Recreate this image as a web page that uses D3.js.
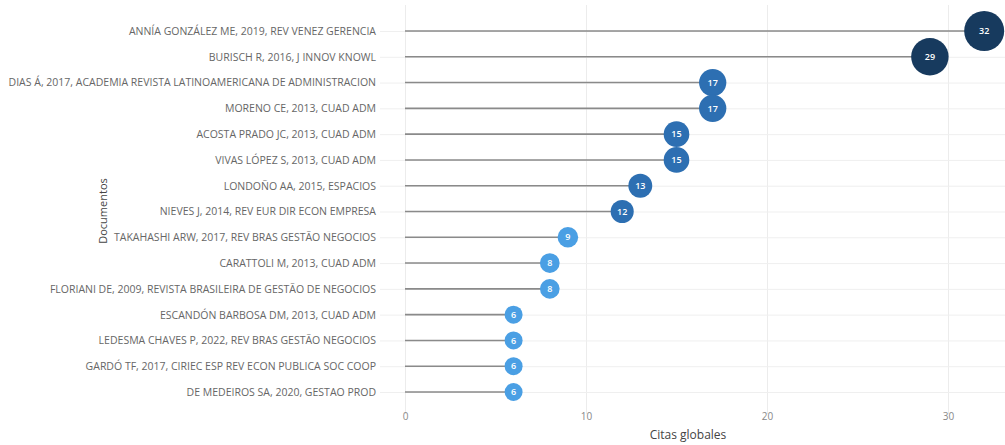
<!DOCTYPE html>
<html>
<head>
<meta charset="utf-8">
<script src="https://cdn.jsdelivr.net/npm/d3@7"></script>
<style>
  body { margin: 0; background: #fff; font-family: 'Open Sans', sans-serif; }
</style>
</head>
<body>
<div id="chart"></div>
<script>
'use strict'

const documents = [
  'ANNÍA GONZÁLEZ ME, 2019, REV VENEZ GERENCIA',
  'BURISCH R, 2016, J INNOV KNOWL',
  'DIAS Á, 2017, ACADEMIA REVISTA LATINOAMERICANA DE ADMINISTRACION',
  'MORENO CE, 2013, CUAD ADM',
  'ACOSTA PRADO JC, 2013, CUAD ADM',
  'VIVAS LÓPEZ S, 2013, CUAD ADM',
  'LONDOÑO AA, 2015, ESPACIOS',
  'NIEVES J, 2014, REV EUR DIR ECON EMPRESA',
  'TAKAHASHI ARW, 2017, REV BRAS GESTÃO NEGOCIOS',
  'CARATTOLI M, 2013, CUAD ADM',
  'FLORIANI DE, 2009, REVISTA BRASILEIRA DE GESTÃO DE NEGOCIOS',
  'ESCANDÓN BARBOSA DM, 2013, CUAD ADM',
  'LEDESMA CHAVES P, 2022, REV BRAS GESTÃO NEGOCIOS',
  'GARDÓ TF, 2017, CIRIEC ESP REV ECON PUBLICA SOC COOP',
  'DE MEDEIROS SA, 2020, GESTAO PROD'
]
const citations = [32, 29, 17, 17, 15, 15, 13, 12, 9, 8, 8, 6, 6, 6, 6]
const xTicks = [0, 10, 20, 30]

const width = 1005
const height = 445
const margin = { top: 31, right: 0, bottom: 53, left: 405 }

const svg = d3.select('#chart')
  .append('svg')
  .attr('width', width)
  .attr('height', height)

const x = d3.scaleLinear()
  .domain([0, 33.15])
  .range([margin.left, width - margin.right])

const y = d3.scalePoint()
  .domain(documents)
  .range([margin.top, height - margin.bottom])

const r = d3.scaleLinear()
  .domain([6, 32])
  .range([9, 20])

const color = d3.scaleThreshold()
  .domain([10, 20])
  .range(['#4a9fe4', '#2d6fb2', '#173a5e'])

// vertical grid
svg.append('g')
  .attr('transform', 'translate(0,' + (height - margin.bottom + 22) + ')')
  .call(d3.axisBottom(x).tickValues(xTicks).tickSize(-(height - margin.bottom + 22 - 5)).tickSizeOuter(0))
  .call(g => g.select('.domain').remove())
  .call(g => g.selectAll('.tick line').attr('stroke', '#ececec'))
  .call(g => g.selectAll('.tick text')
    .attr('dy', '-0.6em')
    .attr('y', 0)
    .attr('transform', 'translate(0,12)')
    .attr('fill', '#888')
    .attr('font-size', 10)
    .attr('font-family', "'Open Sans', sans-serif"))

// horizontal grid + labels
svg.append('g')
  .attr('transform', 'translate(' + (width - margin.right) + ',0)')
  .call(d3.axisLeft(y).tickSize(width - margin.right - 380).tickPadding(4))
  .call(g => g.select('.domain').remove())
  .call(g => g.selectAll('.tick line').attr('stroke', '#efefef'))
  .call(g => g.selectAll('.tick text')
    .attr('fill', '#666')
    .attr('font-size', 10.5)
    .attr('font-family', "'Open Sans', sans-serif"))

const rows = documents.map((d, i) => ({ doc: d, value: citations[i] }))

svg.append('g')
  .selectAll('line')
  .data(rows)
  .enter()
  .append('line')
  .attr('x1', x(0))
  .attr('x2', d => x(d.value))
  .attr('y1', d => y(d.doc))
  .attr('y2', d => y(d.doc))
  .attr('stroke', '#8a8a8a')
  .attr('stroke-width', 1.6)

const dots = svg.append('g')
  .selectAll('g')
  .data(rows)
  .enter()
  .append('g')
  .attr('transform', d => 'translate(' + x(d.value) + ',' + y(d.doc) + ')')

dots.append('circle')
  .attr('r', d => r(d.value))
  .attr('fill', d => color(d.value))

dots.append('text')
  .text(d => d.value)
  .attr('text-anchor', 'middle')
  .attr('dy', '0.35em')
  .attr('fill', '#fff')
  .attr('font-size', 9)
  .attr('font-weight', 600)
  .attr('font-family', "'Open Sans', sans-serif")

svg.append('text')
  .attr('x', (x(0) + x(33.15)) / 2 - 17)
  .attr('y', 439)
  .attr('text-anchor', 'middle')
  .attr('fill', '#444')
  .attr('font-size', 12)
  .attr('font-family', "'Open Sans', sans-serif")
  .text('Citas globales')

svg.append('text')
  .attr('transform', 'translate(107,211) rotate(-90)')
  .attr('text-anchor', 'middle')
  .attr('fill', '#444')
  .attr('font-size', 11)
  .attr('font-family', "'Open Sans', sans-serif")
  .text('Documentos')
</script>
</body>
</html>
